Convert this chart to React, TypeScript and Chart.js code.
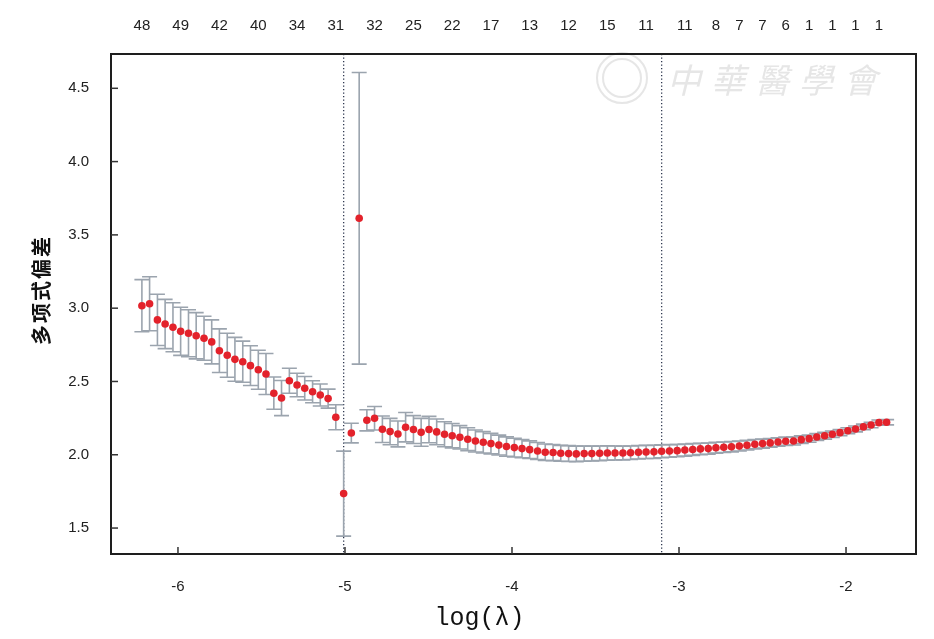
import React, { useEffect, useRef } from 'react';
import { Chart, registerables } from 'chart.js';

Chart.register(...registerables);

// log(lambda) of each cross-validated model
const logLambda = [
  -6.216, -6.170, -6.123, -6.077, -6.030, -5.984, -5.937, -5.891, -5.844, -5.798,
  -5.752, -5.705, -5.659, -5.612, -5.566, -5.519, -5.473, -5.426, -5.380, -5.333,
  -5.287, -5.241, -5.194, -5.148, -5.101, -5.055, -5.008, -4.962, -4.915, -4.869,
  -4.823, -4.776, -4.730, -4.683, -4.637, -4.590, -4.544, -4.497, -4.451, -4.404,
  -4.358, -4.312, -4.265, -4.219, -4.172, -4.126, -4.079, -4.033, -3.986, -3.940,
  -3.894, -3.847, -3.801, -3.754, -3.708, -3.661, -3.615, -3.568, -3.522, -3.475,
  -3.429, -3.383, -3.336, -3.290, -3.243, -3.197, -3.150, -3.104, -3.057, -3.011,
  -2.965, -2.918, -2.872, -2.825, -2.779, -2.732, -2.686, -2.639, -2.593, -2.546,
  -2.500, -2.454, -2.407, -2.361, -2.314, -2.268, -2.221, -2.175, -2.128, -2.082,
  -2.036, -1.989, -1.943, -1.896, -1.850, -1.803, -1.757,
];

// mean cross-validated deviance
const cvMean = [
  3.017, 3.030, 2.920, 2.892, 2.870, 2.842, 2.829, 2.812, 2.795, 2.770,
  2.710, 2.679, 2.651, 2.635, 2.608, 2.580, 2.551, 2.420, 2.387, 2.505,
  2.476, 2.454, 2.430, 2.408, 2.383, 2.256, 1.735, 2.148, 3.613, 2.235,
  2.249, 2.174, 2.158, 2.142, 2.188, 2.172, 2.153, 2.172, 2.156, 2.140,
  2.130, 2.119, 2.106, 2.094, 2.085, 2.076, 2.066, 2.056, 2.049, 2.042,
  2.035, 2.026, 2.017, 2.015, 2.010, 2.008, 2.006, 2.008, 2.008, 2.010,
  2.012, 2.012, 2.012, 2.014, 2.017, 2.019, 2.020, 2.024, 2.026, 2.028,
  2.032, 2.036, 2.040, 2.042, 2.048, 2.051, 2.055, 2.060, 2.065, 2.072,
  2.076, 2.081, 2.087, 2.092, 2.094, 2.103, 2.110, 2.121, 2.130, 2.140,
  2.151, 2.164, 2.176, 2.190, 2.203, 2.219, 2.222,
];

// standard error of the deviance (half error-bar height)
const cvSd = [
  0.178, 0.184, 0.175, 0.168, 0.167, 0.164, 0.160, 0.158, 0.150, 0.150,
  0.149, 0.150, 0.150, 0.140, 0.136, 0.133, 0.140, 0.110, 0.120, 0.085,
  0.080, 0.080, 0.075, 0.075, 0.065, 0.085, 0.290, 0.067, 0.995, 0.072,
  0.080, 0.090, 0.090, 0.088, 0.100, 0.095, 0.095, 0.090, 0.088, 0.085,
  0.083, 0.080, 0.078, 0.075, 0.073, 0.070, 0.068, 0.066, 0.064, 0.062,
  0.060, 0.058, 0.056, 0.055, 0.054, 0.054, 0.053, 0.052, 0.051, 0.050,
  0.049, 0.048, 0.047, 0.046, 0.046, 0.045, 0.045, 0.044, 0.043, 0.042,
  0.041, 0.040, 0.039, 0.038, 0.037, 0.036, 0.035, 0.034, 0.033, 0.032,
  0.031, 0.030, 0.029, 0.028, 0.027, 0.026, 0.025, 0.024, 0.023, 0.022,
  0.021, 0.020, 0.020, 0.019, 0.019, 0.018, 0.018,
];

// number of non-zero coefficients shown on the top axis
const topLabelIndex = [0, 5, 10, 15, 20, 25, 30, 35, 40, 45, 50, 55, 60, 65, 70, 74, 77, 80, 83, 86, 89, 92, 95];
const topLabels = ['48', '49', '42', '40', '34', '31', '32', '25', '22', '17', '13', '12', '15', '11', '11', '8', '7', '7', '6', '1', '1', '1', '1'];

const xTickValues = [-6, -5, -4, -3, -2];
const yTickValues = [1.5, 2.0, 2.5, 3.0, 3.5, 4.0, 4.5];

const lambdaMinIndex = 26;
const lambda1seIndex = 67;

const xMin = -6.401;
const xMax = -1.581;
const yMin = 1.323;
const yMax = 4.734;

const xTitle = 'log(λ)';
const yTitle = '多项式偏差';
const watermarkText = '中華醫學會';

const decorPlugin = {
  id: 'decor',
  beforeDatasetsDraw(chart: any) {
    const { ctx, chartArea: a, scales } = chart;
    const xs = scales.x;
    const ys = scales.y;
    ctx.save();

    // faint watermark
    ctx.strokeStyle = 'rgba(205,205,205,0.5)';
    ctx.fillStyle = 'rgba(205,205,205,0.5)';
    ctx.lineWidth = 2;
    ctx.beginPath();
    ctx.arc(a.left + 511, a.top + 24, 25, 0, Math.PI * 2);
    ctx.stroke();
    ctx.beginPath();
    ctx.arc(a.left + 511, a.top + 24, 19, 0, Math.PI * 2);
    ctx.stroke();
    ctx.font = 'italic 34px "Noto Sans CJK TC"';
    ctx.textAlign = 'left';
    ctx.textBaseline = 'middle';
    (ctx as any).letterSpacing = '10px';
    ctx.fillText(watermarkText, a.left + 556, a.top + 26);
    (ctx as any).letterSpacing = '0px';

    // dotted reference lines (lambda.min, lambda.1se)
    ctx.strokeStyle = '#2f3850';
    ctx.lineWidth = 1.3;
    ctx.setLineDash([1.3, 2.2]);
    [lambdaMinIndex, lambda1seIndex].forEach((i) => {
      const px = xs.getPixelForValue(logLambda[i]);
      ctx.beginPath();
      ctx.moveTo(px, a.top);
      ctx.lineTo(px, a.bottom);
      ctx.stroke();
    });
    ctx.setLineDash([]);

    // error bars
    ctx.strokeStyle = '#9ba4ae';
    ctx.lineWidth = 1.6;
    logLambda.forEach((x, i) => {
      const px = xs.getPixelForValue(x);
      const top = ys.getPixelForValue(cvMean[i] + cvSd[i]);
      const bot = ys.getPixelForValue(cvMean[i] - cvSd[i]);
      ctx.beginPath();
      ctx.moveTo(px, top);
      ctx.lineTo(px, bot);
      ctx.moveTo(px - 7.5, top);
      ctx.lineTo(px + 7.5, top);
      ctx.moveTo(px - 7.5, bot);
      ctx.lineTo(px + 7.5, bot);
      ctx.stroke();
    });
    ctx.restore();
  },
  afterDraw(chart: any) {
    const { ctx, chartArea: a, scales } = chart;
    const xs = scales.x;
    const ys = scales.y;
    ctx.save();
    // frame
    ctx.strokeStyle = '#1e1e1e';
    ctx.lineWidth = 2;
    ctx.strokeRect(a.left, a.top, a.right - a.left, a.bottom - a.top);
    // inward tick marks
    ctx.strokeStyle = '#333';
    ctx.lineWidth = 1.5;
    xTickValues.forEach((v) => {
      const px = xs.getPixelForValue(v);
      ctx.beginPath();
      ctx.moveTo(px, a.bottom);
      ctx.lineTo(px, a.bottom - 7);
      ctx.stroke();
    });
    yTickValues.forEach((v) => {
      const py = ys.getPixelForValue(v);
      ctx.beginPath();
      ctx.moveTo(a.left, py);
      ctx.lineTo(a.left + 7, py);
      ctx.stroke();
    });
    // axis titles
    ctx.fillStyle = '#111';
    ctx.textAlign = 'center';
    ctx.textBaseline = 'middle';
    ctx.font = '25px "Liberation Mono"';
    ctx.fillText(xTitle, (a.left + a.right) / 2 - 34, a.bottom + 64);
    ctx.translate(33, (a.top + a.bottom) / 2 - 14);
    ctx.rotate(-Math.PI / 2);
    ctx.font = 'bold 20px "Noto Sans CJK SC"';
    (ctx as any).letterSpacing = '2px';
    ctx.fillText(yTitle, 0, 0);
    ctx.restore();
  },
};

export default function App() {
  const canvasRef = useRef<HTMLCanvasElement | null>(null);

  useEffect(() => {
    const canvas = canvasRef.current;
    if (!canvas) return;
    const tickFont = { family: '"Liberation Sans", Arial, sans-serif', size: 15 };
    const chart = new Chart(canvas, {
      type: 'scatter',
      data: {
        datasets: [
          {
            label: 'cvm',
            data: logLambda.map((x, i) => ({ x, y: cvMean[i] })),
            backgroundColor: '#e3222b',
            borderWidth: 0,
            pointRadius: 3.8,
            pointHoverRadius: 3.8,
          },
        ],
      },
      options: {
        responsive: false,
        animation: false,
        events: [],
        layout: { padding: { left: 0, right: 10, top: 0, bottom: 0 } },
        plugins: { legend: { display: false }, tooltip: { enabled: false } },
        scales: {
          x: {
            type: 'linear',
            position: 'bottom',
            min: xMin,
            max: xMax,
            grid: { display: false },
            border: { display: false },
            afterBuildTicks: (s: any) => {
              s.ticks = xTickValues.map((v) => ({ value: v }));
            },
            afterFit: (s: any) => {
              s.height = 76;
            },
            ticks: {
              font: tickFont,
              color: '#222',
              padding: 16,
              maxRotation: 0,
              autoSkip: false,
              callback: (v: any) => String(v),
            },
          },
          x2: {
            type: 'linear',
            position: 'top',
            min: xMin,
            max: xMax,
            grid: { display: false },
            border: { display: false },
            afterBuildTicks: (s: any) => {
              s.ticks = topLabelIndex.map((i) => ({ value: logLambda[i] }));
            },
            afterFit: (s: any) => {
              s.height = 46;
            },
            ticks: {
              font: tickFont,
              color: '#222',
              padding: 11,
              maxRotation: 0,
              autoSkip: false,
              callback: (_v: any, idx: number) => topLabels[idx],
            },
          },
          y: {
            type: 'linear',
            min: yMin,
            max: yMax,
            grid: { display: false },
            border: { display: false },
            afterBuildTicks: (s: any) => {
              s.ticks = yTickValues.map((v) => ({ value: v }));
            },
            afterFit: (s: any) => {
              s.width = 103;
            },
            ticks: {
              font: tickFont,
              color: '#222',
              padding: 14,
              autoSkip: false,
              callback: (v: any) => Number(v).toFixed(1),
            },
          },
        },
      },
      plugins: [decorPlugin],
    });
    return () => chart.destroy();
  }, []);

  return (
    <div style={{ width: 918, height: 622, background: '#fff' }}>
      <canvas ref={canvasRef} width={918} height={622} style={{ display: 'block' }} />
    </div>
  );
}
